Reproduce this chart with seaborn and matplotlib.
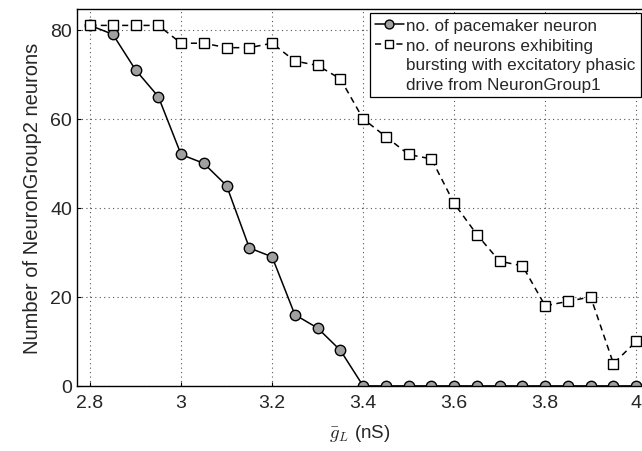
import pandas as pd
import numpy as np
import matplotlib
matplotlib.use("Agg")
import matplotlib.pyplot as plt
from matplotlib.lines import Line2D
import seaborn as sns

# g_L values (nS)
g_L = [2.80, 2.85, 2.90, 2.95, 3.00, 3.05, 3.10, 3.15, 3.20, 3.25, 3.30, 3.35, 3.40,
       3.45, 3.50, 3.55, 3.60, 3.65, 3.70, 3.75, 3.80, 3.85, 3.90, 3.95, 4.00]
pacemaker = [81, 79, 71, 65, 52, 50, 45, 31, 29, 16, 13, 8, 0,
             0, 0, 0, 0, 0, 0, 0, 0, 0, 0, 0, 0]
bursting = [81, 81, 81, 81, 77, 77, 76, 76, 77, 73, 72, 69, 60,
            56, 52, 51, 41, 34, 28, 27, 18, 19, 20, 5, 10]

lab1 = "no. of pacemaker neuron"
lab2 = ["no. of neurons exhibiting", "bursting with excitatory phasic",
        "drive from NeuronGroup1"]

df = pd.DataFrame({"gL": g_L, "pace": pacemaker, "burst": bursting})

sns.set_style("ticks")
plt.rcParams["font.family"] = ["Liberation Sans", "DejaVu Sans"]
plt.rcParams["mathtext.fontset"] = "cm"

fig = plt.figure(figsize=(6.42, 4.52), dpi=100)
# right spine sits just outside the picture, as in the reference crop
ax = fig.add_axes([0.12, 0.144, 0.8816, 0.834])

sns.lineplot(data=df, x="gL", y="pace", ax=ax, color="black", lw=1.1,
             marker="o", markersize=7.5, markerfacecolor="#a0a0a0",
             markeredgecolor="black", markeredgewidth=1.0, label=lab1)
sns.lineplot(data=df, x="gL", y="burst", ax=ax, color="black", lw=1.1,
             linestyle=(0, (4, 3)), marker="s", markersize=7,
             markerfacecolor="white", markeredgecolor="black",
             markeredgewidth=1.0, label=lab2[0])

ax.set_xlim(2.7714, 4.015)
ax.set_ylim(0, 84.7)
ax.set_xticks([2.8, 3.0, 3.2, 3.4, 3.6, 3.8, 4.0])
ax.set_xticklabels(["2.8", "3", "3.2", "3.4", "3.6", "3.8", "4"])
ax.set_yticks([0, 20, 40, 60, 80])
ax.tick_params(direction="in", length=3, labelsize=14, color="black")
ax.tick_params(axis="x", pad=6)
ax.grid(True, linestyle=(0, (1, 3)), color="#555555", lw=0.8)
for s in ax.spines.values():
    s.set_color("black")
    s.set_linewidth(1.0)

ax.set_xlabel(r"$\bar{g}_L$ (nS)", fontsize=13.5, labelpad=8)
ax.set_ylabel("Number of NeuronGroup2 neurons", fontsize=14.5, labelpad=6)

# legend: continuation lines get blank handles so the marker sits on line one
handles, labels = ax.get_legend_handles_labels()
blank = Line2D([], [], linestyle="none", marker="none")
handles = handles + [blank, blank]
labels = labels + lab2[1:]
leg = ax.legend(handles, labels, loc="upper right",
                bbox_to_anchor=(641 / 642, 1 - 14 / 452),
                bbox_transform=fig.transFigure, fontsize=12.3,
                handlelength=1.7, handletextpad=0.15, borderpad=0.3,
                labelspacing=0.27, borderaxespad=0.0, fancybox=False,
                framealpha=1, edgecolor="black", markerscale=0.85)
leg.get_frame().set_linewidth(0.9)

plt.savefig("out.png", dpi=100)
